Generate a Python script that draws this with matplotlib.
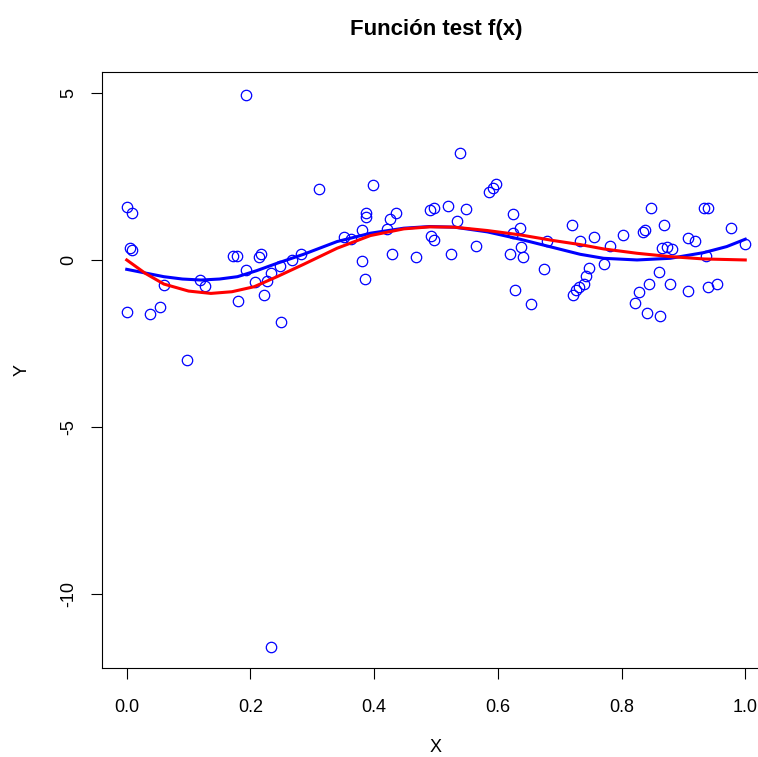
import matplotlib.pyplot as plt

x_obs = [0.001, 0.001, 0.006, 0.008, 0.009, 0.037, 0.054, 0.061, 0.098,
         0.118, 0.127, 0.172, 0.179, 0.180, 0.193, 0.193, 0.207, 0.214, 0.217,
         0.222, 0.227, 0.233, 0.233, 0.248, 0.250, 0.267, 0.282, 0.311, 0.351,
         0.363, 0.381, 0.381, 0.386, 0.387, 0.387, 0.398, 0.420, 0.426, 0.429,
         0.435, 0.468, 0.490, 0.492, 0.497, 0.497, 0.520, 0.525, 0.534, 0.539,
         0.548, 0.565, 0.585, 0.592, 0.597, 0.619, 0.624, 0.625, 0.628, 0.636,
         0.637, 0.641, 0.654, 0.675, 0.679, 0.720, 0.721, 0.726, 0.732, 0.733,
         0.739, 0.743, 0.748, 0.756, 0.771, 0.782, 0.802, 0.821, 0.828, 0.834,
         0.838, 0.841, 0.845, 0.848, 0.861, 0.862, 0.866, 0.869, 0.873, 0.879,
         0.881, 0.907, 0.908, 0.918, 0.933, 0.937, 0.939, 0.939, 0.954, 0.977,
         0.999]
y_obs = [1.58, -1.55, 0.37, 1.40, 0.29, -1.62, -1.41, -0.76, -2.99,
         -0.61, -0.78, 0.13, 0.13, -1.24, 4.94, -0.31, -0.66, 0.09, 0.19,
         -1.05, -0.62, -0.38, -11.56, -0.17, -1.86, -0.01, 0.19, 2.13, 0.70,
         0.62, 0.90, -0.03, -0.58, 1.40, 1.29, 2.25, 0.94, 1.23, 0.19,
         1.39, 0.10, 1.50, 0.71, 1.54, 0.60, 1.62, 0.17, 1.17, 3.21,
         1.53, 0.42, 2.04, 2.16, 2.28, 0.19, 0.80, 1.38, -0.89, 0.95,
         0.39, 0.08, -1.31, -0.26, 0.58, 1.04, -1.05, -0.89, -0.80, 0.57,
         -0.71, -0.48, -0.25, 0.70, -0.11, 0.42, 0.75, -1.28, -0.97, 0.83,
         0.90, -1.58, -0.73, 1.55, -0.35, -1.67, 0.36, 1.05, 0.40, -0.71,
         0.32, 0.65, -0.93, 0.57, 1.56, 0.11, 1.56, -0.81, -0.71, 0.96,
         0.48]

# true function (red)
red_x = [0.0, 0.03, 0.06, 0.10, 0.136, 0.17, 0.206, 0.243, 0.286, 0.34,
         0.394, 0.448, 0.49, 0.53, 0.583, 0.636, 0.69, 0.733, 0.771, 0.825,
         0.879, 0.933, 1.0]
red_y = [0.0, -0.40, -0.72, -0.93, -1.0, -0.95, -0.80, -0.50, -0.13, 0.35,
         0.73, 0.93, 0.99, 0.98, 0.88, 0.75, 0.58, 0.46, 0.33, 0.20,
         0.10, 0.03, 0.0]

# fitted curve (blue)
blue_x = [0.0, 0.06, 0.09, 0.12, 0.15, 0.179, 0.21, 0.243, 0.286, 0.34,
          0.394, 0.448, 0.49, 0.53, 0.583, 0.636, 0.69, 0.733, 0.771, 0.825,
          0.879, 0.933, 0.97, 1.0]
blue_y = [-0.28, -0.50, -0.57, -0.60, -0.57, -0.50, -0.32, -0.10, 0.17, 0.55,
          0.80, 0.95, 1.0, 0.98, 0.84, 0.62, 0.37, 0.17, 0.05, 0.0,
          0.05, 0.22, 0.40, 0.62]

plt.rcParams["font.family"] = ["Liberation Sans", "DejaVu Sans"]
plt.rcParams["axes.unicode_minus"] = False

fig = plt.figure(figsize=(7.58, 7.57), dpi=100)
# the right edge of the plot box falls outside the image, as in the original
ax = fig.add_axes([102 / 758, 1 - 668 / 757, 668 / 758, 596 / 757])

ax.plot(x_obs, y_obs, "o", markerfacecolor="none", markeredgecolor="#0000FF",
        markersize=7.5, markeredgewidth=0.9)
ax.plot(blue_x, blue_y, color="#0000FF", linewidth=2.2)
ax.plot(red_x, red_y, color="#FF0000", linewidth=2.2)

ax.set_xlim(-0.04, 1.04)
ax.set_ylim(-12.2, 5.62)
ax.set_xticks([0.0, 0.2, 0.4, 0.6, 0.8, 1.0])
ax.set_xticklabels(["0.0", "0.2", "0.4", "0.6", "0.8", "1.0"])
ax.set_yticks([5, 0, -5, -10])
ax.tick_params(labelsize=13, length=8, width=0.8)
ax.tick_params(axis="x", pad=14)
ax.tick_params(axis="y", pad=10)
plt.setp(ax.get_yticklabels(), rotation=90, va="center")
for s in ax.spines.values():
    s.set_linewidth(0.8)

fig.text(436 / 758, 1 - 30 / 757, "Función test f(x)", ha="center",
         va="center", fontsize=16, fontweight="bold")
fig.text(436 / 758, 1 - 748 / 757, "X", ha="center", va="center", fontsize=13)
fig.text(22 / 758, 1 - 370 / 757, "Y", ha="center", va="center", fontsize=13,
         rotation=90)

fig.savefig("out.png", dpi=100)
